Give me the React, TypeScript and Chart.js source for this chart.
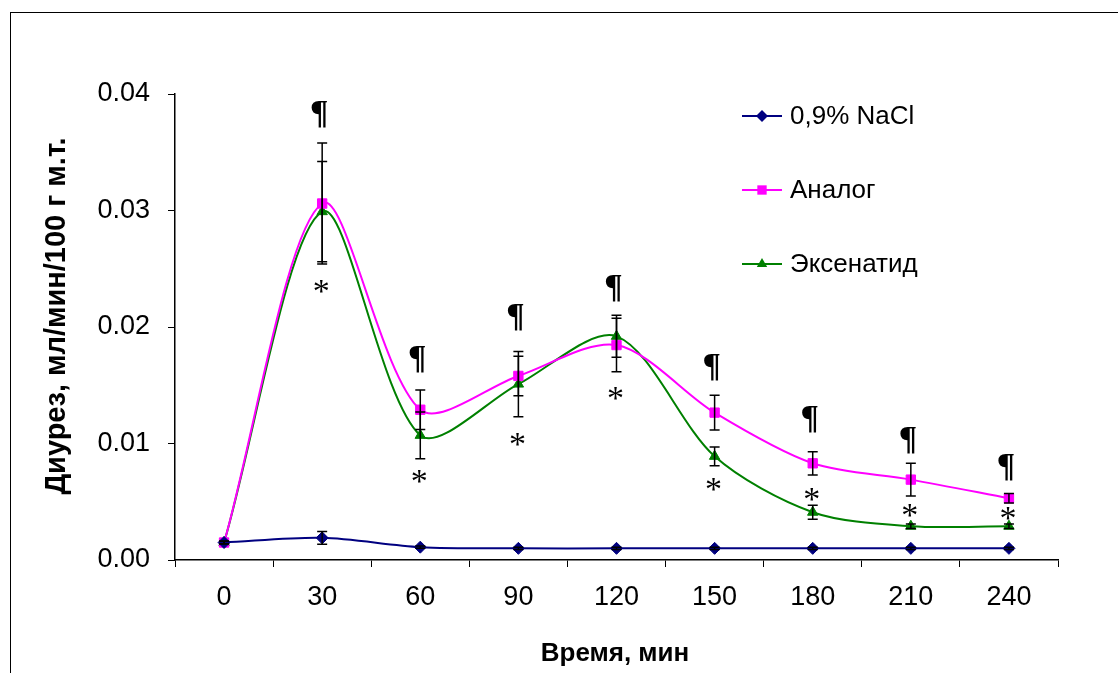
import React, { useEffect, useRef } from 'react';
import { Chart, registerables } from 'chart.js';

Chart.register(...registerables);

const timeLabels = ['0', '30', '60', '90', '120', '150', '180', '210', '240'];

const naclValues = [0.0015, 0.0019, 0.0011, 0.001, 0.001, 0.001, 0.001, 0.001, 0.001];
const naclErrors = [0.0001, 0.00055, 0.0001, 0.0001, 0.0001, 0.0001, 0.0001, 0.0001, 0.0001];

const analogValues = [0.0015, 0.0306, 0.0129, 0.0158, 0.01845, 0.01265, 0.0083, 0.0069, 0.0053];
const analogErrors = [0.0001, 0.0052, 0.0017, 0.0017, 0.0023, 0.0015, 0.001, 0.0014, 0.0004];

const exenatideValues = [0.0015, 0.0299, 0.0107, 0.0151, 0.0192, 0.0089, 0.0041, 0.0029, 0.0029];
const exenatideErrors = [0.0001, 0.0043, 0.002, 0.0028, 0.0018, 0.0008, 0.0006, 0.0002, 0.0002];

// significance marks (value position on the y axis)
const pilcrowY = [null, 0.0382, 0.0172, 0.0208, 0.0233, 0.0165, 0.012, 0.0102, 0.0079];
const asteriskY = [null, 0.0235, 0.0072, 0.0104, 0.0143, 0.0065, 0.0057, 0.0043, 0.004];

const seriesNames = ['0,9% NaCl', 'Аналог', 'Эксенатид'];
const seriesColors = ['#000080', '#FF00FF', '#008000'];
const seriesMarkers = ['rectRot', 'rect', 'triangle'];
const seriesErrors = [naclErrors, analogErrors, exenatideErrors];

const yAxisTitle = 'Диурез, мл/мин/100 г м.т.';
const xAxisTitle = 'Время, мин';

const FONT = '"Liberation Sans", Arial, sans-serif';
const SERIF = '"Liberation Serif", "Times New Roman", serif';

const errorBarPlugin = {
  id: 'errorBars',
  afterDatasetsDraw(chart: any) {
    const ctx = chart.ctx;
    const yScale = chart.scales.y;
    ctx.save();
    ctx.strokeStyle = '#000';
    ctx.lineWidth = 1.5;
    chart.data.datasets.forEach((ds: any, di: number) => {
      const meta = chart.getDatasetMeta(di);
      const errs = seriesErrors[di];
      meta.data.forEach((pt: any, i: number) => {
        const v = ds.data[i];
        const e = errs[i];
        if (v == null || !e) return;
        const x = pt.x;
        const yt = yScale.getPixelForValue(v + e);
        const yb = yScale.getPixelForValue(v - e);
        ctx.beginPath();
        ctx.moveTo(x, yt);
        ctx.lineTo(x, yb);
        ctx.moveTo(x - 5, yt);
        ctx.lineTo(x + 5, yt);
        ctx.moveTo(x - 5, yb);
        ctx.lineTo(x + 5, yb);
        ctx.stroke();
      });
    });
    ctx.restore();
  },
};

const marksPlugin = {
  id: 'marks',
  afterDatasetsDraw(chart: any) {
    const ctx = chart.ctx;
    const xScale = chart.scales.x;
    const yScale = chart.scales.y;
    ctx.save();
    ctx.fillStyle = '#000';
    ctx.textAlign = 'center';
    ctx.textBaseline = 'alphabetic';
    timeLabels.forEach((_, i) => {
      const x = xScale.getPixelForValue(i);
      const p = pilcrowY[i];
      if (p != null) {
        ctx.font = `bold 34px ${SERIF}`;
        ctx.fillText('¶', x - 3, yScale.getPixelForValue(p) + 0.24 * 34);
      }
      const a = asteriskY[i];
      if (a != null) {
        ctx.font = `34px ${SERIF}`;
        ctx.fillText('*', x - 1, yScale.getPixelForValue(a) + 0.47 * 34);
      }
    });
    ctx.restore();
  },
};

const decorPlugin = {
  id: 'decor',
  afterDraw(chart: any) {
    const ctx = chart.ctx;
    ctx.save();
    // axis titles
    ctx.fillStyle = '#000';
    ctx.textAlign = 'center';
    ctx.textBaseline = 'middle';
    ctx.font = `bold 26px ${FONT}`;
    ctx.fillText(xAxisTitle, 615, 654);
    ctx.translate(57, 316);
    ctx.rotate(-Math.PI / 2);
    ctx.font = `bold 29px ${FONT}`;
    ctx.fillText(yAxisTitle, 0, 0);
    ctx.restore();

    // legend
    ctx.save();
    const lx = 742;
    const rows = [116, 190, 264];
    chart.data.datasets.forEach((ds: any, di: number) => {
      const y = rows[di];
      const cx = lx + 20;
      ctx.strokeStyle = seriesColors[di];
      ctx.lineWidth = 2;
      ctx.beginPath();
      ctx.moveTo(lx, y);
      ctx.lineTo(lx + 40, y);
      ctx.stroke();
      ctx.fillStyle = seriesColors[di];
      const style = seriesMarkers[di];
      const r = ds.pointRadius;
      ctx.beginPath();
      if (style === 'rectRot') {
        ctx.moveTo(cx, y - r);
        ctx.lineTo(cx + r, y);
        ctx.lineTo(cx, y + r);
        ctx.lineTo(cx - r, y);
      } else if (style === 'rect') {
        const s = r * Math.SQRT1_2;
        ctx.rect(cx - s, y - s, 2 * s, 2 * s);
      } else {
        const w = (r * Math.sqrt(3)) / 2;
        ctx.moveTo(cx, y - r);
        ctx.lineTo(cx + w, y + r / 2);
        ctx.lineTo(cx - w, y + r / 2);
      }
      ctx.closePath();
      ctx.fill();
      ctx.fillStyle = '#000';
      ctx.font = `26px ${FONT}`;
      ctx.textAlign = 'left';
      ctx.textBaseline = 'middle';
      ctx.fillText(seriesNames[di], lx + 48, y + 1);
    });
    ctx.restore();
  },
};

export default function App() {
  const canvasRef = useRef<HTMLCanvasElement | null>(null);

  useEffect(() => {
    const canvas = canvasRef.current;
    if (!canvas) return;
    const valueSets = [naclValues, analogValues, exenatideValues];
    const chart = new Chart(canvas, {
      type: 'line',
      data: {
        labels: timeLabels,
        datasets: valueSets.map((vals, di) => ({
          label: seriesNames[di],
          data: vals,
          borderColor: seriesColors[di],
          backgroundColor: seriesColors[di],
          pointBackgroundColor: seriesColors[di],
          pointBorderColor: seriesColors[di],
          pointStyle: seriesMarkers[di] as any,
          pointRadius: di === 0 ? 6 : di === 1 ? 6.6 : 6,
          pointBorderWidth: 1,
          borderWidth: 2,
          tension: 0.3,
          fill: false,
        })),
      },
      options: {
        responsive: false,
        animation: false,
        devicePixelRatio: 1,
        layout: { padding: { top: 94, right: 60, left: 0, bottom: 0 } },
        plugins: {
          legend: { display: false },
          tooltip: { enabled: false },
        },
        scales: {
          x: {
            type: 'category',
            offset: true,
            grid: {
              offset: true,
              drawOnChartArea: false,
              drawTicks: true,
              tickLength: 7,
              color: '#000',
              lineWidth: 1,
            },
            border: { color: '#000', width: 1.5 },
            ticks: {
              color: '#000',
              font: { family: FONT, size: 27 },
              padding: 14,
              maxRotation: 0,
            },
            afterFit: (s: any) => {
              s.height = 113;
            },
          },
          y: {
            min: 0,
            max: 0.04,
            grid: {
              drawOnChartArea: false,
              drawTicks: true,
              tickLength: 7,
              color: '#000',
              lineWidth: 1,
            },
            border: { color: '#000', width: 1.5 },
            ticks: {
              stepSize: 0.01,
              color: '#000',
              font: { family: FONT, size: 27 },
              padding: 18,
              callback: (v: any) => Number(v).toFixed(2),
            },
            afterFit: (s: any) => {
              s.width = 175;
            },
          },
        },
      },
      plugins: [errorBarPlugin, marksPlugin, decorPlugin],
    });
    return () => chart.destroy();
  }, []);

  return (
    <div
      style={{
        position: 'fixed',
        left: 0,
        top: 0,
        width: 1118,
        height: 673,
        overflow: 'hidden',
        background: '#fff',
      }}
    >
      <div
        style={{
          position: 'absolute',
          left: 10,
          top: 12,
          width: 1200,
          height: 800,
          borderLeft: '1px solid #000',
          borderTop: '1px solid #000',
        }}
      />
      <canvas
        ref={canvasRef}
        width={1118}
        height={673}
        style={{ position: 'absolute', left: 0, top: 0 }}
      />
    </div>
  );
}
